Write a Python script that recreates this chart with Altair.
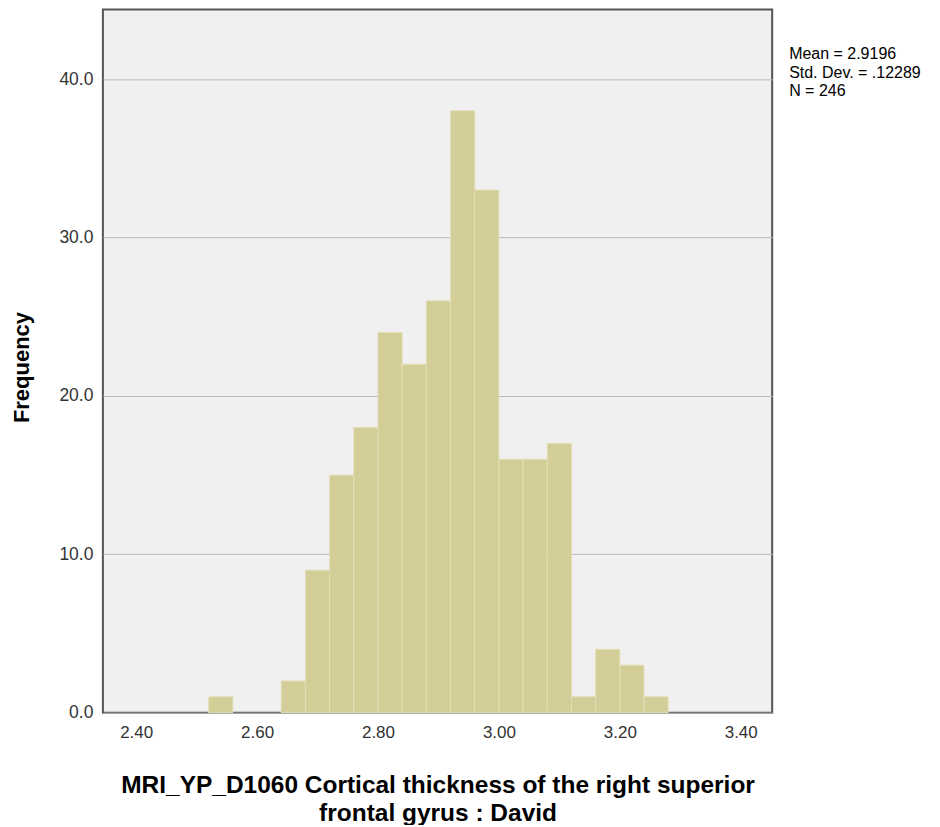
import altair as alt
import pandas as pd

# ---- data ----
bin_start = [2.52, 2.64, 2.68, 2.72, 2.76, 2.80, 2.84, 2.88, 2.92, 2.96,
             3.00, 3.04, 3.08, 3.12, 3.16, 3.20, 3.24]
counts = [1, 2, 9, 15, 18, 24, 22, 26, 38, 33, 16, 16, 17, 1, 4, 3, 1]
bin_width = 0.04
x_ticks = [2.40, 2.60, 2.80, 3.00, 3.20, 3.40]
y_ticks = [0, 10, 20, 30, 40]
stats_lines = ["Mean = 2.9196", "Std. Dev. = .12289", "N = 246"]
x_title = ["MRI_YP_D1060 Cortical thickness of the right superior",
           "frontal gyrus : David"]
y_title = "Frequency"

df = pd.DataFrame({"start": bin_start, "count": counts})
df["end"] = df["start"] + bin_width

FONT = "Liberation Sans"
W, H = 670, 704

x_scale = alt.Scale(domain=[2.345, 3.452], nice=False, zero=False)
y_scale = alt.Scale(domain=[0, 44.4], nice=False)

bars = alt.Chart(df).mark_bar(
    fill="#D3CE97", stroke="#E2DFB8", strokeWidth=1
).encode(
    x=alt.X("start:Q", scale=x_scale,
            axis=alt.Axis(values=x_ticks, format=".2f", title=x_title,
                          grid=False, ticks=False, domain=False,
                          labelFontSize=17, labelColor="#333333",
                          labelPadding=12, labelFont=FONT,
                          titleFont=FONT, titleFontSize=24.5, titleFontWeight="bold",
                          titleColor="#000000", titleY=80,
                          titleBaseline="alphabetic", titleLineHeight=28)),
    x2="end:Q",
    y=alt.Y("count:Q", scale=y_scale,
            axis=alt.Axis(values=y_ticks, format=".1f", title=y_title,
                          grid=True, gridColor="#B8B8B8", gridWidth=1,
                          ticks=False, domain=False,
                          labelFontSize=17.5, labelColor="#333333",
                          labelPadding=10, labelFont=FONT,
                          titleFont=FONT, titleFontSize=22, titleFontWeight="bold",
                          titleColor="#000000", titleAngle=-90,
                          titleX=-74, titleY=358, titleAlign="center",
                          titleBaseline="alphabetic")),
    y2=alt.datum(0),
)

stats = alt.Chart(pd.DataFrame({"k": [0]})).mark_text(
    align="left", baseline="alphabetic", font=FONT, fontSize=16,
    lineHeight=18.5, color="#000000"
).encode(
    x=alt.value(687), y=alt.value(50), text=alt.value(stats_lines)
)

chart = alt.layer(bars, stats).properties(
    width=W, height=H,
    autosize=alt.AutoSizeParams(type="none"),
    padding={"left": 95, "top": 1, "right": 160, "bottom": 112},
).configure_view(
    fill="#F0F0F0", stroke="#555555", strokeWidth=2
)

chart.save("out.html", embed_options={"renderer": "svg", "actions": False})
